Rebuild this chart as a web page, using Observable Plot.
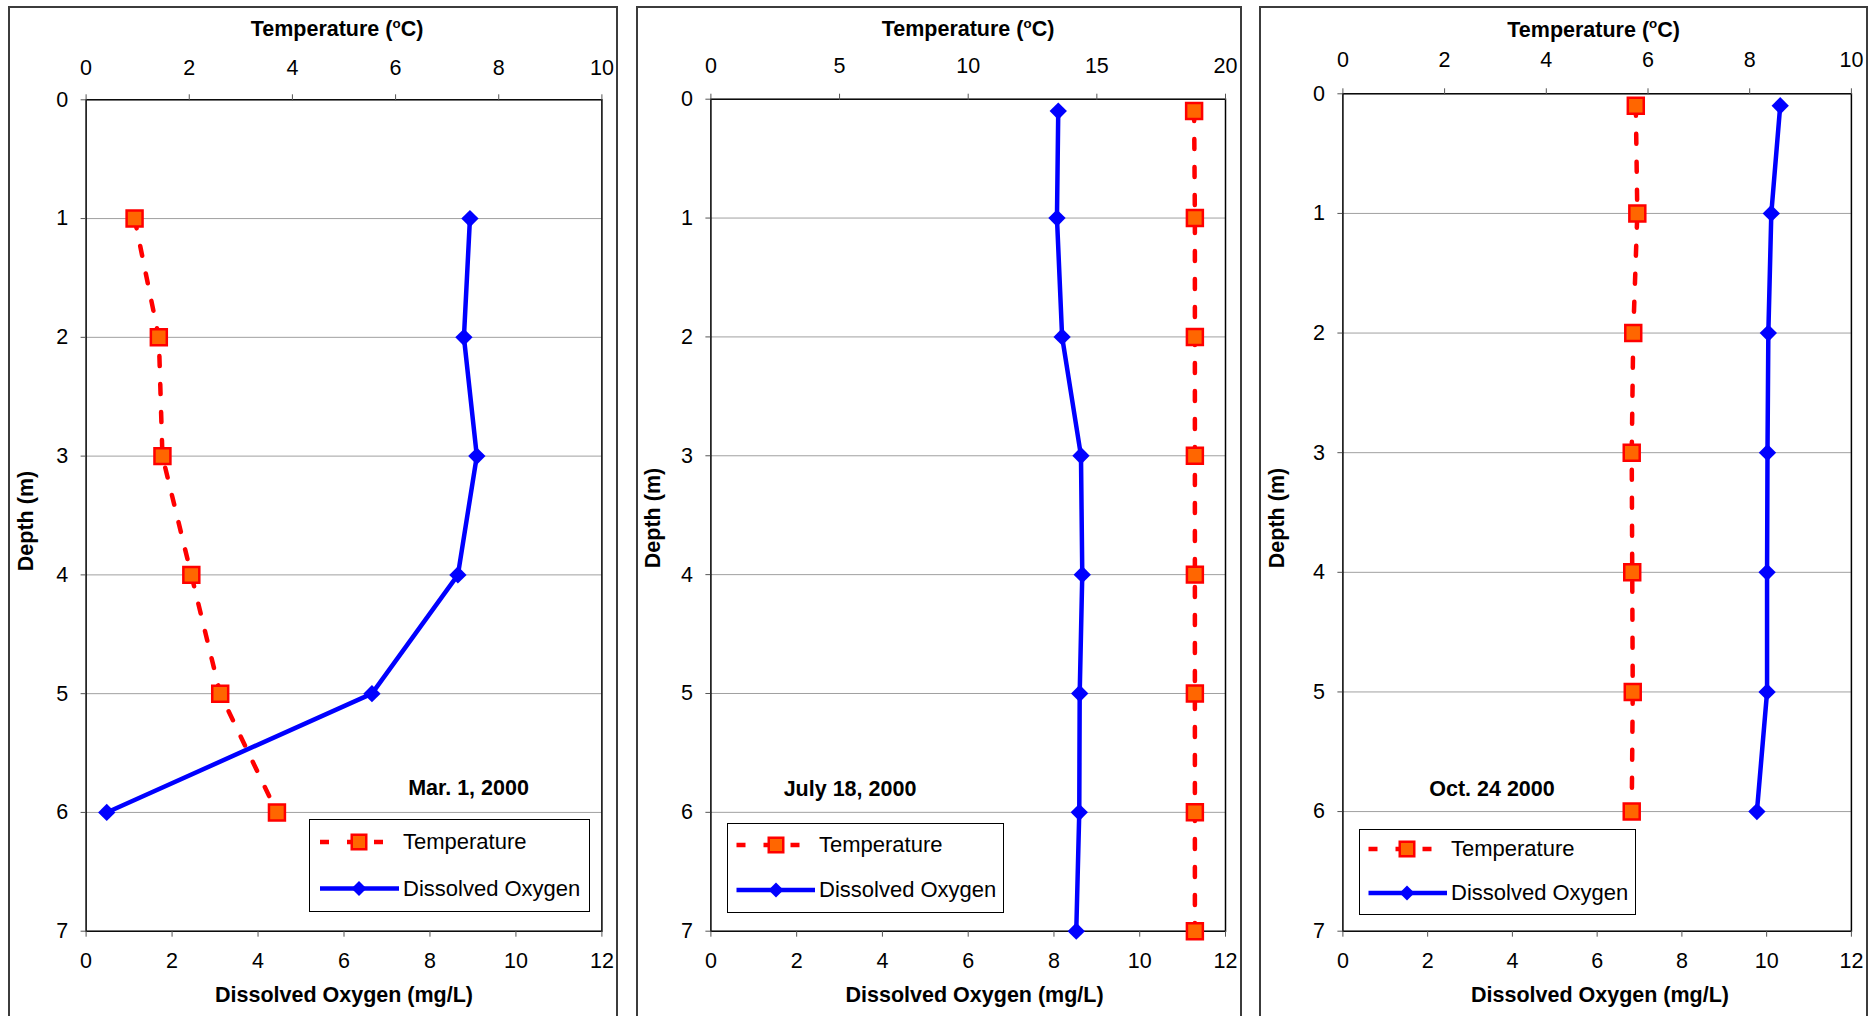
<!DOCTYPE html>
<html>
<head>
<meta charset="utf-8">
<script src="https://cdn.jsdelivr.net/npm/d3@7"></script>
<script src="https://cdn.jsdelivr.net/npm/@observablehq/plot@0.6"></script>
<style>
  html, body { margin: 0; padding: 0; background: #fff; }
  #root { position: relative; width: 1875px; height: 1016px; overflow: hidden; background: #fff;
          font-family: "Liberation Sans", Arial, sans-serif; color: #000; }
  .frame { position: absolute; border: 2px solid #3c3c3c; box-sizing: border-box; }
  .plotwrap { position: absolute; top: 0; }
  .plotwrap svg { overflow: visible; }
  .txt { position: absolute; white-space: nowrap; line-height: 1; transform: translate(-50%, -50%); }
  .bold { font-weight: bold; }
  .sup { font-size: 0.62em; position: relative; top: -0.62em; }
  .legend { position: absolute; border: 1px solid #000; background: #fff; box-sizing: border-box; }
  .legtxt { position: absolute; white-space: nowrap; line-height: 1; transform: translate(0, -50%); font-size: 22px; }
</style>
</head>
<body>
<div id="root"></div>
<script>
// ---------------- data ----------------
const depthTicks = [0, 1, 2, 3, 4, 5, 6, 7];
const doTicks = [0, 2, 4, 6, 8, 10, 12];

const dates = ["Mar. 1, 2000", "July 18, 2000", "Oct. 24 2000"];

// Mar. 1, 2000
const depths1 = [1, 2, 3, 4, 5, 6];
const temp1 = [0.94, 1.41, 1.48, 2.04, 2.60, 3.70];
const do1 = [8.93, 8.79, 9.09, 8.65, 6.65, 0.48];
const tempTicks1 = [0, 2, 4, 6, 8, 10];

// July 18, 2000
const depths2 = [0.1, 1, 2, 3, 4, 5, 6, 7];
const temp2 = [18.78, 18.81, 18.81, 18.81, 18.81, 18.81, 18.81, 18.81];
const do2 = [8.10, 8.07, 8.19, 8.63, 8.66, 8.60, 8.59, 8.52];
const tempTicks2 = [0, 5, 10, 15, 20];

// Oct. 24 2000
const depths3 = [0.1, 1, 2, 3, 4, 5, 6];
const temp3 = [5.76, 5.79, 5.71, 5.68, 5.69, 5.70, 5.68];
const do3 = [10.32, 10.11, 10.04, 10.02, 10.01, 10.01, 9.77];
const tempTicks3 = [0, 2, 4, 6, 8, 10];

const seriesNames = ["Temperature", "Dissolved Oxygen"];

// ---------------- layout (positions/styles) ----------------
const panels = [
  { depths: depths1, temps: temp1, dos: do1, tempTicks: tempTicks1, date: dates[0],
    left: 9, w: 608, mL: 76.6, mR: 15.6, mT: 99.3, topPad: 19,
    frame: [8, 6, 610],
    topTitle: [337, 30.3], botTitle: [344, 995.5], depthTitle: [27, 521], dateXY: [468.5, 788.5],
    legend: { x: 308.5, y: 819, w: 281, h: 93, y1: 842, y2: 888.5, lx1: 320, lx2: 386, lx2b: 399, mk: 359, tx: 403 } },
  { depths: depths2, temps: temp2, dos: do2, tempTicks: tempTicks2, date: dates[1],
    left: 637, w: 604, mL: 73.4, mR: 16, mT: 98.7, topPad: 20,
    frame: [636, 6, 606],
    topTitle: [968, 30.3], botTitle: [974.6, 995.5], depthTitle: [653.5, 518], dateXY: [850, 790],
    legend: { x: 727, y: 823, w: 277, h: 90, y1: 845, y2: 890, lx1: 736.5, lx2: 803, lx2b: 815, mk: 776, tx: 819 } },
  { depths: depths3, temps: temp3, dos: do3, tempTicks: tempTicks3, date: dates[2],
    left: 1260, w: 607, mL: 82.4, mR: 16.1, mT: 93.3, topPad: 21,
    frame: [1259, 6, 609],
    topTitle: [1593.6, 30.5], botTitle: [1600, 995.5], depthTitle: [1277.5, 518], dateXY: [1492, 789.5],
    legend: { x: 1359, y: 829, w: 277, h: 86, y1: 849, y2: 893, lx1: 1368.5, lx2: 1435, lx2b: 1447, mk: 1407, tx: 1451 } }
];

const root = document.getElementById("root");

function addTxt(html, x, y, cls, size, rotate) {
  const d = document.createElement("div");
  d.className = "txt " + (cls || "");
  d.innerHTML = html;
  d.style.left = x + "px";
  d.style.top = y + "px";
  d.style.fontSize = size + "px";
  if (rotate) d.style.transform = "translate(-50%, -50%) rotate(-90deg)";
  root.appendChild(d);
}

function addLegend(L) {
  const box = document.createElement("div");
  box.className = "legend";
  box.style.left = L.x + "px"; box.style.top = L.y + "px";
  box.style.width = L.w + "px"; box.style.height = L.h + "px";
  root.appendChild(box);
  const svg = d3.select(root).append("svg")
    .attr("width", 1875).attr("height", 1016)
    .style("position", "absolute").style("left", 0).style("top", 0)
    .style("pointer-events", "none");
  svg.append("line").attr("x1", L.lx1).attr("x2", L.lx2).attr("y1", L.y1).attr("y2", L.y1)
    .attr("stroke", "#ff0000").attr("stroke-width", 4.5).attr("stroke-dasharray", "9,18");
  const s = 14.5;
  svg.append("rect").attr("x", L.mk - s / 2).attr("y", L.y1 - s / 2).attr("width", s).attr("height", s)
    .attr("fill", "#ff6600").attr("stroke", "#ff0000").attr("stroke-width", 2.5);
  svg.append("line").attr("x1", L.lx1).attr("x2", L.lx2b).attr("y1", L.y2).attr("y2", L.y2)
    .attr("stroke", "#0000ff").attr("stroke-width", 4.5);
  const r = 7.5;
  svg.append("path").attr("d", `M${L.mk},${L.y2 - r}L${L.mk + r},${L.y2}L${L.mk},${L.y2 + r}L${L.mk - r},${L.y2}Z`)
    .attr("fill", "#0000ff");
  [[seriesNames[0], L.y1], [seriesNames[1], L.y2]].forEach(([t, y]) => {
    const d = document.createElement("div");
    d.className = "legtxt";
    d.textContent = t;
    d.style.left = L.tx + "px";
    d.style.top = y + "px";
    root.appendChild(d);
  });
}

panels.forEach(p => {
  const fr = document.createElement("div");
  fr.className = "frame";
  fr.style.left = p.frame[0] + "px";
  fr.style.top = p.frame[1] + "px";
  fr.style.width = p.frame[2] + "px";
  fr.style.height = "1040px";
  root.appendChild(fr);

  const k = 12 / p.tempTicks[p.tempTicks.length - 1];
  const rows = p.depths.map((d, i) => ({ depth: d, temp: p.temps[i], dox: p.dos[i] }));

  const chart = Plot.plot({
    width: p.w,
    height: 1016,
    marginLeft: p.mL,
    marginRight: p.mR,
    marginTop: p.mT,
    marginBottom: 85.3,
    x: { domain: [0, 12] },
    y: { domain: [0, 7], reverse: true },
    style: { fontFamily: "'Liberation Sans', Arial, sans-serif", fontSize: "21.5px", color: "#000", background: "transparent", overflow: "visible" },
    marks: [
      Plot.gridY(depthTicks.slice(1, -1), { stroke: "#a0a0a0", strokeOpacity: 1, strokeWidth: 1 }),
      Plot.frame({ stroke: "#000", strokeWidth: 1.5 }),
      Plot.axisY(depthTicks, { tickSize: 5, tickPadding: 13, label: null, stroke: "#555", fontSize: 21.5,
        tickFormat: d3.format("d") }),
      Plot.axisX(doTicks, { anchor: "bottom", tickSize: 6, tickPadding: 16, label: null, stroke: "#555", fontSize: 21.5,
        tickFormat: d3.format("d") }),
      Plot.axisX(p.tempTicks.map(t => t * k), { anchor: "top", tickSize: 6, tickPadding: p.topPad, label: null, stroke: "#555",
        fontSize: 21.5, tickFormat: v => String(Math.round(v / k)) }),
      Plot.line(rows, { x: d => d.temp * k, y: "depth", stroke: "#ff0000", strokeWidth: 4.5, strokeDasharray: "10,18" }),
      Plot.dot(rows, { x: d => d.temp * k, y: "depth", symbol: "square", r: 9, fill: "#ff6600", stroke: "#ff0000", strokeWidth: 2.5 }),
      Plot.line(rows, { x: "dox", y: "depth", stroke: "#0000ff", strokeWidth: 4.5 }),
      Plot.dot(rows, { x: "dox", y: "depth", symbol: "diamond2", r: 7.8, fill: "#0000ff" })
    ]
  });
  const wrap = document.createElement("div");
  wrap.className = "plotwrap";
  wrap.style.left = p.left + "px";
  wrap.appendChild(chart);
  root.appendChild(wrap);

  addTxt('Temperature (<span class="sup">o</span>C)', p.topTitle[0], p.topTitle[1], "bold", 21.5);
  addTxt("Dissolved Oxygen (mg/L)", p.botTitle[0], p.botTitle[1], "bold", 21.5);
  addTxt("Depth (m)", p.depthTitle[0], p.depthTitle[1], "bold", 21.5, true);
  addTxt(p.date, p.dateXY[0], p.dateXY[1], "bold", 21.5);
  addLegend(p.legend);
});
</script>
</body>
</html>
